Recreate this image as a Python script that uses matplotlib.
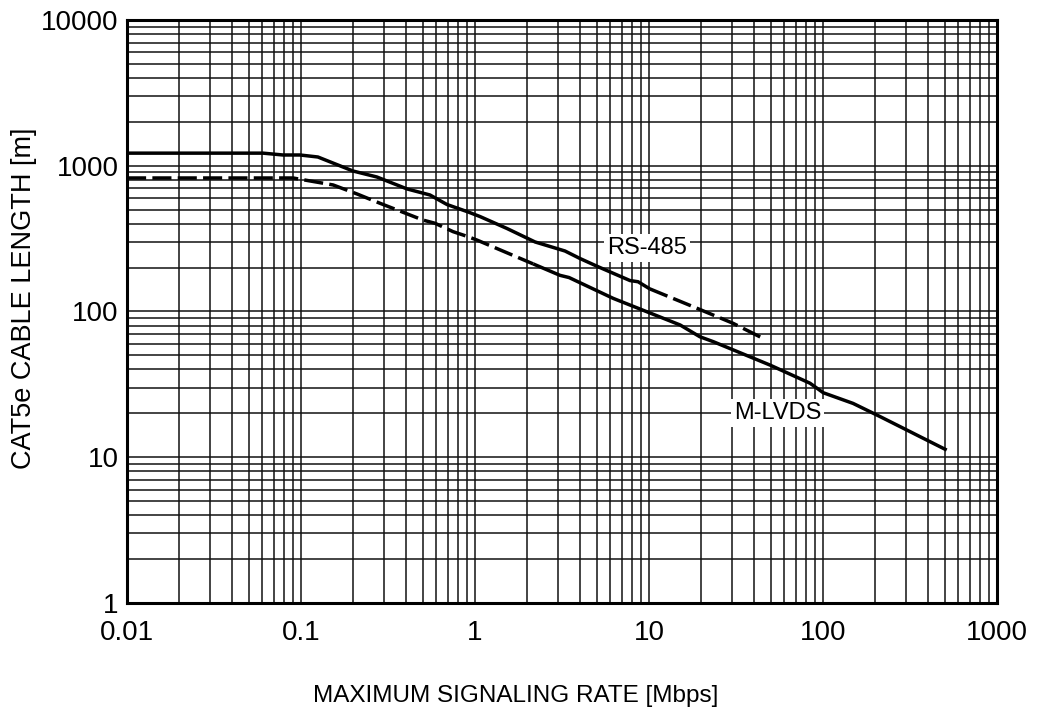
import matplotlib.pyplot as plt
import numpy as np

plt.rcParams['font.family'] = ['Liberation Sans', 'DejaVu Sans']

# upper curve (solid at low rate, dashed after ~10 Mbps)
rate_a = [0.01, 0.0605, 0.0788, 0.0987, 0.125, 0.199, 0.273, 0.407, 0.551, 0.690,
          0.912, 1.069, 1.527, 2.213, 3.29, 4.01, 5.09, 7.78, 8.65, 10.1,
          17.9, 30.4, 46.4]
len_a = [1220, 1220, 1185, 1185, 1148, 920, 837, 693, 630, 542,
         482, 448, 371, 300, 260, 231, 203, 163, 160, 143,
         108, 83, 64.4]
split_a = 19

# lower curve (dashed at low rate, solid after ~2 Mbps)
rate_b = [0.01, 0.090, 0.153, 0.210, 0.284, 0.502, 0.589, 0.748, 0.912, 1.027,
          2.16, 3.08, 3.47, 6.23, 9.70, 15.1, 19.6, 23.4, 49.6, 84.2,
          100.4, 149, 213, 316, 346, 514]
len_b = [824, 824, 738, 640, 553, 424, 403, 353, 326, 309,
         212, 177, 171, 123, 99.7, 80.8, 67.1, 62.1, 42.9, 32.2,
         27.7, 23.4, 19.0, 15.0, 14.2, 11.2]
split_b = 10

xticks = [0.01, 0.1, 1, 10, 100, 1000]
xticklabels = ['0.01', '0.1', '1', '10', '100', '1000']
yticks = [1, 10, 100, 1000, 10000]
yticklabels = ['1', '10', '100', '1000', '10000']

fig = plt.figure(figsize=(10.42, 7.11), dpi=100)
ax = fig.add_axes([0.1219, 0.1519, 0.8349, 0.8200])
ax.set_xscale('log')
ax.set_yscale('log')
ax.set_xlim(0.01, 1000)
ax.set_ylim(1, 10000)

ax.grid(True, which='both', color='#111111', linewidth=1.1)
ax.set_axisbelow(True)

lw = 2.5
dash = (5.5, 1.8)
ax.plot(rate_a[:split_a + 1], len_a[:split_a + 1], color='black', lw=lw, solid_capstyle='butt')
ax.plot(rate_a[split_a:], len_a[split_a:], color='black', lw=lw, dashes=dash)
ax.plot(rate_b[:split_b + 1], len_b[:split_b + 1], color='black', lw=lw, dashes=dash)
ax.plot(rate_b[split_b:], len_b[split_b:], color='black', lw=lw, solid_capstyle='butt')

box = dict(facecolor='white', edgecolor='none', pad=2)
ax.text(9.74, 273, 'RS-485', fontsize=17, ha='center', va='center', bbox=box)
ax.text(55.1, 20.1, 'M-LVDS', fontsize=17, ha='center', va='center', bbox=box)

ax.set_xticks(xticks)
ax.set_xticklabels(xticklabels)
ax.set_yticks(yticks)
ax.set_yticklabels(yticklabels)
ax.tick_params(which='both', length=0, labelsize=20)
ax.tick_params(axis='x', pad=12)
ax.tick_params(axis='y', pad=6)

for s in ax.spines.values():
    s.set_linewidth(2.2)
    s.set_color('black')

ax.set_xlabel('MAXIMUM SIGNALING RATE [Mbps]', fontsize=17.5)
ax.xaxis.set_label_coords(0.447, -0.141)
ax.set_ylabel('CAT5e CABLE LENGTH [m]', fontsize=19.5)
ax.yaxis.set_label_coords(-0.103, 0.523)

fig.savefig('out.png', dpi=100)
